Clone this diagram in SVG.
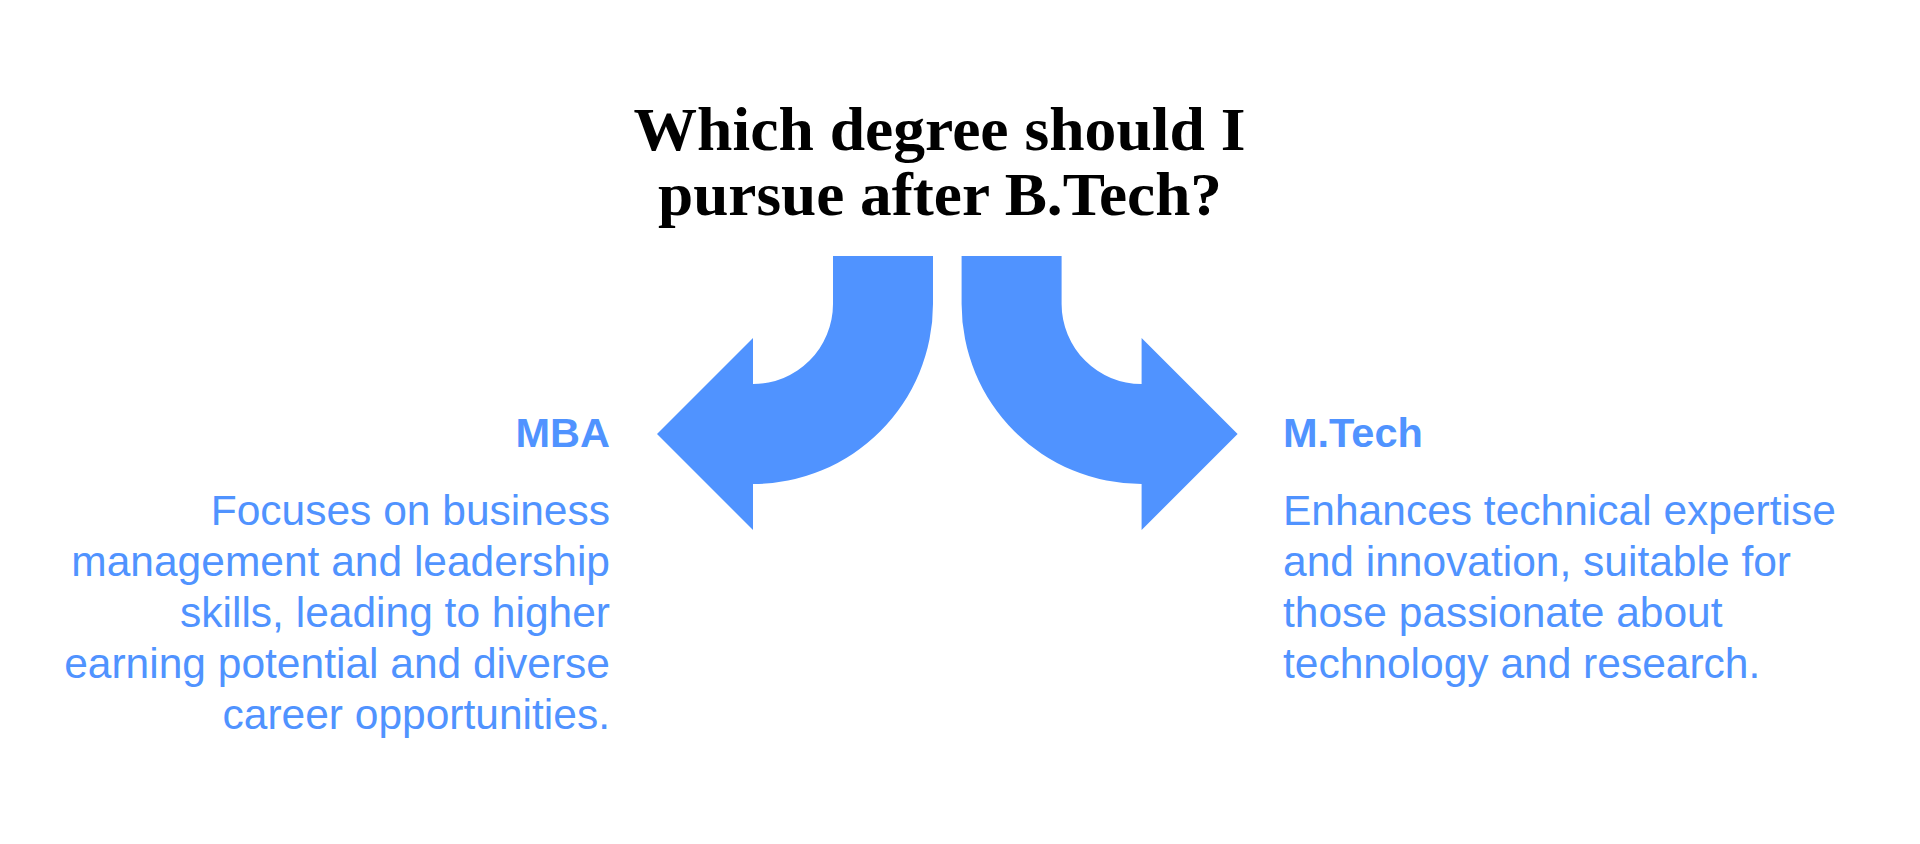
<svg xmlns="http://www.w3.org/2000/svg" width="1920" height="844" viewBox="0 0 1920 844">
  <style>
    .title { font-family: "Liberation Serif", "Times New Roman", serif; font-weight: bold; font-size: 62px; fill: #000000; }
    .head { font-family: "Liberation Sans", Arial, sans-serif; font-weight: bold; font-size: 41.5px; fill: #5093ff; }
    .body { font-family: "Liberation Sans", Arial, sans-serif; font-size: 42.5px; fill: #5093ff; }
    .end { text-anchor: end; }
    .arrow { fill: #5093ff; stroke: none; }
  </style>
  <rect x="0" y="0" width="1920" height="844" fill="#ffffff"/>
  <g id="title">
    <text class="title" x="939.5" y="150" text-anchor="middle" textLength="612" lengthAdjust="spacingAndGlyphs">Which degree should I</text>
    <text class="title" x="940" y="215" text-anchor="middle" textLength="564" lengthAdjust="spacingAndGlyphs">pursue after B.Tech?</text>
  </g>
  <g id="connectors">
    <path class="arrow" d="M 833 256 L 933 256 L 933 304 A 180 180 0 0 1 753 484 L 753 530 L 657 434 L 753 338 L 753 384 A 80 80 0 0 0 833 304 Z"/>
    <path class="arrow" d="M 1061.6 256 L 961.6 256 L 961.6 304 A 180 180 0 0 0 1141.6 484 L 1141.6 530 L 1237.6 434 L 1141.6 338 L 1141.6 384 A 80 80 0 0 1 1061.6 304 Z"/>
  </g>
  <g id="mba">
    <text class="head end" x="610" y="447">MBA</text>
    <text class="body end" x="610" y="524.5">Focuses on business</text>
    <text class="body end" x="610" y="575.5">management and leadership</text>
    <text class="body end" x="610" y="626.5">skills, leading to higher</text>
    <text class="body end" x="610" y="677.5">earning potential and diverse</text>
    <text class="body end" x="610" y="728.5">career opportunities.</text>
  </g>
  <g id="mtech">
    <text class="head" x="1283" y="447">M.Tech</text>
    <text class="body" x="1283" y="524.5">Enhances technical expertise</text>
    <text class="body" x="1283" y="575.5">and innovation, suitable for</text>
    <text class="body" x="1283" y="626.5">those passionate about</text>
    <text class="body" x="1283" y="677.5">technology and research.</text>
  </g>
</svg>
